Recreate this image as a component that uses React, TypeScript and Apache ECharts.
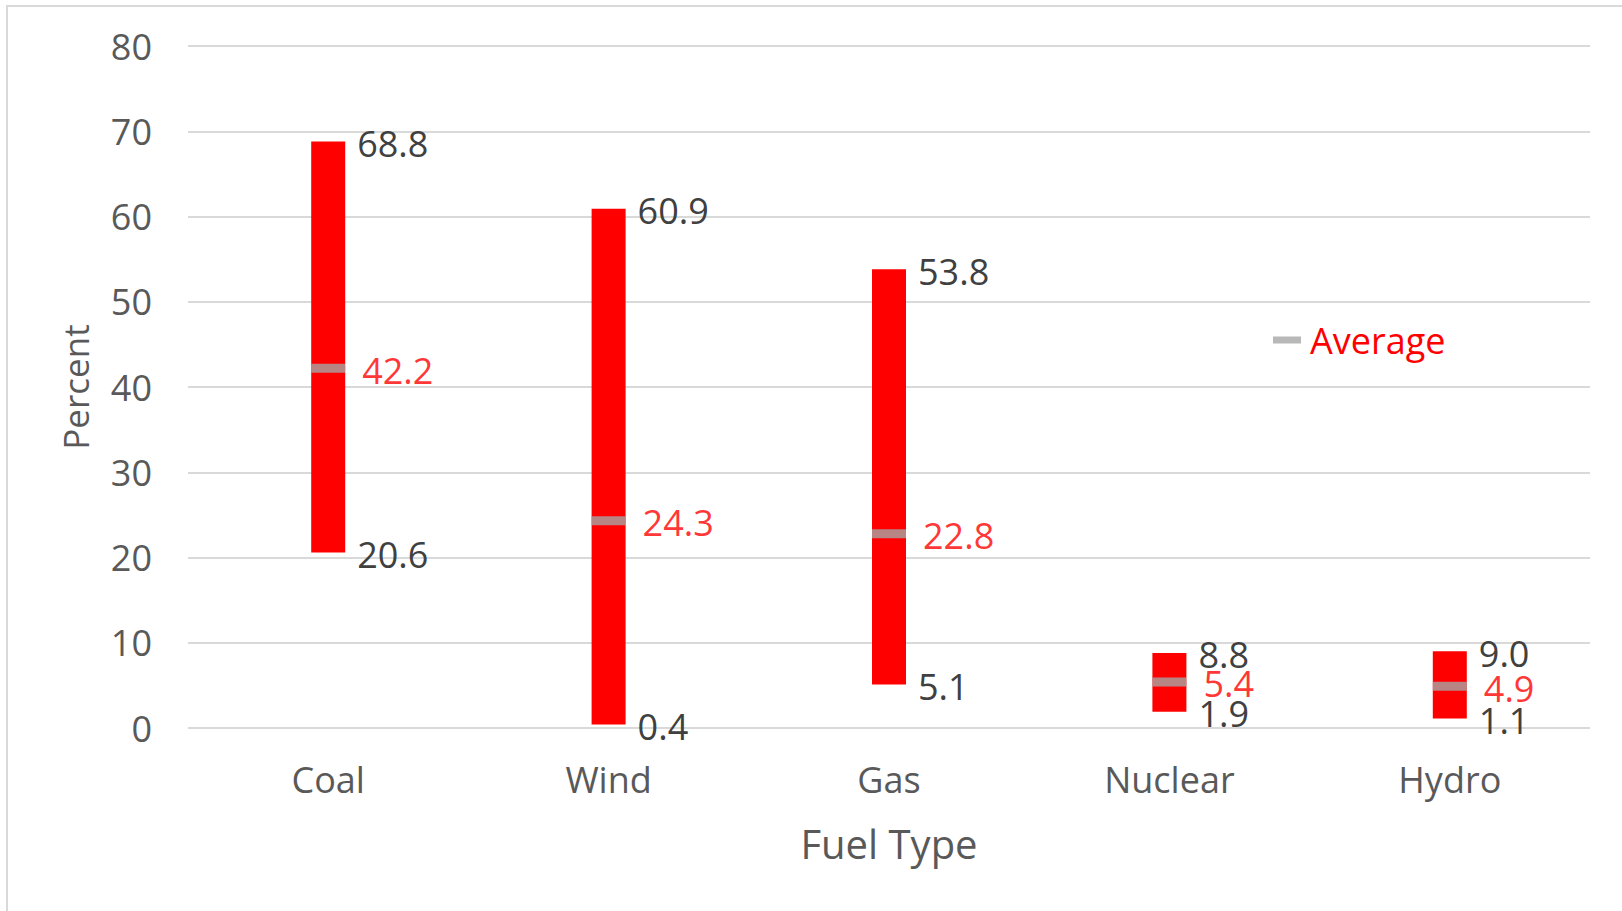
import React, { useEffect, useRef } from "react";
import * as echarts from "echarts";

const categories = ["Coal", "Wind", "Gas", "Nuclear", "Hydro"];
const minValues = [20.6, 0.4, 5.1, 1.9, 1.1];
const maxValues = [68.8, 60.9, 53.8, 8.8, 9.0];
const avgValues = [42.2, 24.3, 22.8, 5.4, 4.9];

const FONT = '"Open Sans", "Segoe UI", sans-serif';
const BAR_W = 34;
const LABEL_SIZE = 36;

export default function App() {
  const ref = useRef<HTMLDivElement>(null);
  useEffect(() => {
    if (!ref.current) return;
    const chart = echarts.init(ref.current, null, { renderer: "svg" });
    const rangeData = categories.map((_, i) => [i, minValues[i], maxValues[i]]);
    const avgData = categories.map((_, i) => [i, avgValues[i]]);
    chart.setOption({
      animation: false,
      backgroundColor: "#ffffff",
      textStyle: { fontFamily: FONT },
      graphic: [
        {
          type: "rect",
          shape: { x: 7, y: 6, width: 1640, height: 940 },
          style: { fill: "none", stroke: "#d9d9d9", lineWidth: 2 },
          silent: true,
          z: -10,
        },
      ],
      grid: { left: 188, right: 32, top: 46, bottom: 183 },
      legend: {
        left: 1268,
        top: 317,
        itemWidth: 28,
        itemHeight: 7,
        data: [{ name: "Average", icon: "rect" }],
        textStyle: { fontSize: LABEL_SIZE, color: "#ff0000", fontFamily: FONT, padding: [0, 0, 0, 4] },
      },
      xAxis: {
        type: "category",
        data: categories,
        name: "Fuel Type",
        nameLocation: "middle",
        nameGap: 95,
        nameTextStyle: { fontSize: 40, color: "#595959", fontFamily: FONT },
        axisLine: { show: false },
        axisTick: { show: false },
        axisLabel: { fontSize: LABEL_SIZE, color: "#595959", margin: 33, fontFamily: FONT },
      },
      yAxis: {
        type: "value",
        min: 0,
        max: 80,
        interval: 10,
        name: "Percent",
        nameLocation: "middle",
        nameRotate: 90,
        nameGap: 95,
        nameTextStyle: { fontSize: 35, color: "#595959", fontFamily: FONT },
        axisLine: { show: false },
        axisTick: { show: false },
        axisLabel: { fontSize: LABEL_SIZE, color: "#595959", margin: 36, fontFamily: FONT },
        splitLine: { lineStyle: { color: "#d9d9d9", width: 2 } },
      },
      series: [
        {
          type: "custom",
          name: "Range",
          data: rangeData,
          encode: { x: 0, y: [1, 2] },
          z: 2,
          renderItem: (params: any, api: any) => {
            const idx = api.value(0);
            const lo = api.value(1);
            const hi = api.value(2);
            const pLo = api.coord([idx, lo]);
            const pHi = api.coord([idx, hi]);
            const tx = pHi[0] + BAR_W / 2 + 12;
            const mk = (val: number, y: number) => ({
              type: "text",
              x: tx,
              y: y + 2,
              style: {
                text: val.toFixed(1),
                fill: "#404040",
                font: `${LABEL_SIZE}px ${FONT}`,
                textAlign: "left",
                textVerticalAlign: "middle",
                align: "left",
                verticalAlign: "middle",
              },
            });
            return {
              type: "group",
              children: [
                {
                  type: "rect",
                  shape: { x: pHi[0] - BAR_W / 2, y: pHi[1], width: BAR_W, height: pLo[1] - pHi[1] },
                  style: { fill: "#ff0000" },
                },
                mk(hi, pHi[1]),
                mk(lo, pLo[1]),
              ],
            };
          },
        },
        {
          type: "scatter",
          name: "Average",
          data: avgData,
          symbol: "rect",
          symbolSize: [BAR_W, 9],
          itemStyle: { color: "#a6a6a6" },
          z: 5,
          label: {
            show: true,
            position: "right",
            distance: 17,
            offset: [0, 2],
            color: "#ff0000",
            fontSize: LABEL_SIZE,
            fontFamily: FONT,
            formatter: (p: any) => Number(p.value[1]).toFixed(1),
          },
        },
      ],
    });
    return () => chart.dispose();
  }, []);
  return (
    <div
      ref={ref}
      style={{ position: "absolute", left: 0, top: 0, width: 1622, height: 911 }}
    />
  );
}
